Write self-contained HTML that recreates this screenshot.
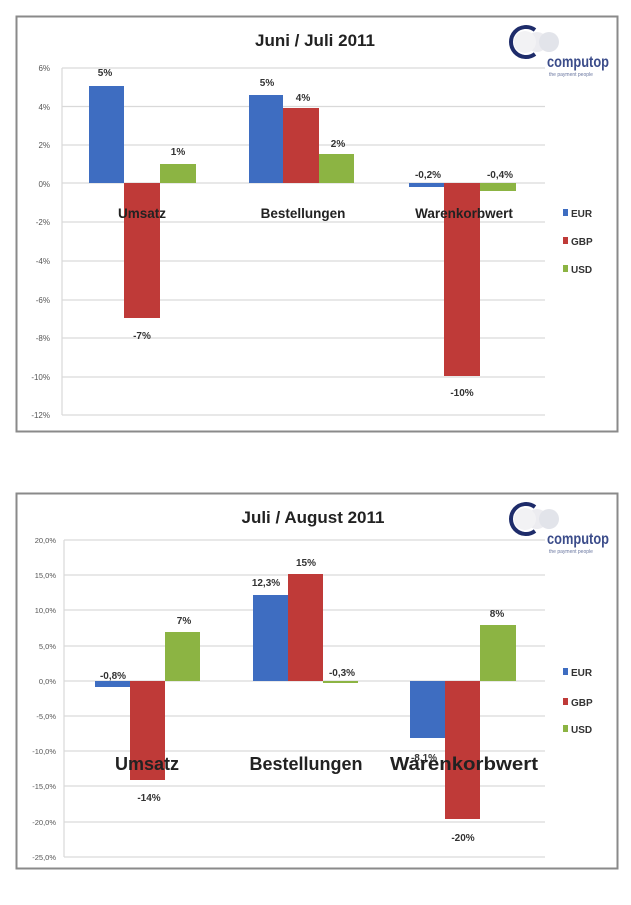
<!DOCTYPE html>
<html><head><meta charset="utf-8"><style>
body{margin:0;background:#fff;}
svg text{font-family:"Liberation Sans",sans-serif;}
</style></head><body>
<svg width="631" height="900" viewBox="0 0 631 900" xmlns="http://www.w3.org/2000/svg">
<defs>
<g id="logo">
 <circle cx="40" cy="22" r="10" fill="#ececf0"/>
 <circle cx="52" cy="22" r="10" fill="#e2e4ea"/>
 <circle cx="28" cy="22" r="11" fill="#f2f2f4"/>
 <path d="M38 10 A15 15 0 1 0 38 34" fill="none" stroke="#1e2c6a" stroke-width="4"/>
 <text x="50" y="47" font-size="16" fill="#3b4c8a" font-weight="bold" textLength="62" lengthAdjust="spacingAndGlyphs">computop</text>
 <text x="52" y="56" font-size="5" fill="#6a77a0">the payment people</text>
</g>
</defs>
<!-- Chart 1 -->
<rect x="16.5" y="16.5" width="601" height="415" fill="#fff" stroke="#8a8a8a" stroke-width="2"/>
<g stroke="#d9d9d9" stroke-width="1.2">
<line x1="62" x2="545" y1="68" y2="68"/><line x1="62" x2="545" y1="106.5" y2="106.5"/>
<line x1="62" x2="545" y1="145" y2="145"/><line x1="62" x2="545" y1="222" y2="222"/>
<line x1="62" x2="545" y1="261" y2="261"/><line x1="62" x2="545" y1="300" y2="300"/>
<line x1="62" x2="545" y1="338" y2="338"/><line x1="62" x2="545" y1="377" y2="377"/>
<line x1="62" x2="545" y1="415" y2="415"/><line x1="62" x2="62" y1="68" y2="415"/>
<line x1="62" x2="545" y1="183" y2="183"/>
</g>
<g font-size="8" fill="#555" text-anchor="end">
<text x="50" y="71">6%</text><text x="50" y="110">4%</text><text x="50" y="148">2%</text>
<text x="50" y="187">0%</text><text x="50" y="225">-2%</text><text x="50" y="264">-4%</text>
<text x="50" y="303">-6%</text><text x="50" y="341">-8%</text><text x="50" y="380">-10%</text><text x="50" y="418">-12%</text>
</g>
<rect x="89" y="86" width="35" height="97" fill="#3e6dc1"/>
<rect x="124" y="183" width="36" height="135" fill="#bf3a38"/>
<rect x="160" y="164" width="36" height="19" fill="#8cb443"/>
<rect x="249" y="95" width="34" height="88" fill="#3e6dc1"/>
<rect x="283" y="108" width="36" height="75" fill="#bf3a38"/>
<rect x="319" y="154" width="35" height="29" fill="#8cb443"/>
<rect x="409" y="183" width="35" height="4" fill="#3e6dc1"/>
<rect x="444" y="183" width="36" height="193" fill="#bf3a38"/>
<rect x="480" y="183" width="36" height="8" fill="#8cb443"/>
<g font-size="10" font-weight="bold" fill="#333" text-anchor="middle">
<text x="105" y="76">5%</text><text x="142" y="339">-7%</text><text x="178" y="155">1%</text>
<text x="267" y="86">5%</text><text x="303" y="101">4%</text><text x="338" y="147">2%</text>
<text x="428" y="178">-0,2%</text><text x="462" y="396">-10%</text><text x="500" y="178">-0,4%</text>
</g>
<g font-size="13.5" font-weight="bold" fill="#222" text-anchor="middle">
<text x="142" y="218">Umsatz</text><text x="303" y="218">Bestellungen</text><text x="464" y="218">Warenkorbwert</text>
</g>
<rect x="563" y="209" width="5" height="7" fill="#3e6dc1"/><text x="571" y="217" font-size="10" font-weight="bold" fill="#333">EUR</text>
<rect x="563" y="237" width="5" height="7" fill="#bf3a38"/><text x="571" y="245" font-size="10" font-weight="bold" fill="#333">GBP</text>
<rect x="563" y="265" width="5" height="7" fill="#8cb443"/><text x="571" y="273" font-size="10" font-weight="bold" fill="#333">USD</text>
<text x="315" y="46" font-size="17" font-weight="bold" fill="#222" text-anchor="middle">Juni / Juli 2011</text>
<use href="#logo" x="497" y="20"/>

<!-- Chart 2 -->
<rect x="16.5" y="493.5" width="601" height="375" fill="#fff" stroke="#8a8a8a" stroke-width="2"/>
<g stroke="#d9d9d9" stroke-width="1.2">
<line x1="64" x2="545" y1="540" y2="540"/><line x1="64" x2="545" y1="575" y2="575"/>
<line x1="64" x2="545" y1="610" y2="610"/><line x1="64" x2="545" y1="646" y2="646"/>
<line x1="64" x2="545" y1="716" y2="716"/><line x1="64" x2="545" y1="751" y2="751"/>
<line x1="64" x2="545" y1="786" y2="786"/><line x1="64" x2="545" y1="822" y2="822"/>
<line x1="64" x2="545" y1="857" y2="857"/><line x1="64" x2="64" y1="540" y2="857"/>
<line x1="64" x2="545" y1="681" y2="681"/>
</g>
<g font-size="7.5" fill="#555" text-anchor="end">
<text x="56" y="543">20,0%</text><text x="56" y="578">15,0%</text><text x="56" y="613">10,0%</text>
<text x="56" y="649">5,0%</text><text x="56" y="684">0,0%</text><text x="56" y="719">-5,0%</text>
<text x="56" y="754">-10,0%</text><text x="56" y="789">-15,0%</text><text x="56" y="825">-20,0%</text><text x="56" y="860">-25,0%</text>
</g>
<rect x="95" y="681" width="35" height="6" fill="#3e6dc1"/>
<rect x="130" y="681" width="35" height="99" fill="#bf3a38"/>
<rect x="165" y="632" width="35" height="49" fill="#8cb443"/>
<rect x="253" y="595" width="35" height="86" fill="#3e6dc1"/>
<rect x="288" y="574" width="35" height="107" fill="#bf3a38"/>
<rect x="323" y="681" width="35" height="2" fill="#8cb443"/>
<rect x="410" y="681" width="35" height="57" fill="#3e6dc1"/>
<rect x="445" y="681" width="35" height="138" fill="#bf3a38"/>
<rect x="480" y="625" width="36" height="56" fill="#8cb443"/>
<g font-size="10" font-weight="bold" fill="#333" text-anchor="middle">
<text x="113" y="679">-0,8%</text><text x="149" y="801">-14%</text><text x="184" y="624">7%</text>
<text x="266" y="586">12,3%</text><text x="306" y="566">15%</text><text x="342" y="676">-0,3%</text>
<text x="424" y="761">-8,1%</text><text x="463" y="841">-20%</text><text x="497" y="617">8%</text>
</g>
<g font-size="18" font-weight="bold" fill="#222" text-anchor="middle">
<text x="147" y="770">Umsatz</text><text x="306" y="770">Bestellungen</text><text x="464" y="770" textLength="148" lengthAdjust="spacingAndGlyphs">Warenkorbwert</text>
</g>
<rect x="563" y="668" width="5" height="7" fill="#3e6dc1"/><text x="571" y="676" font-size="10" font-weight="bold" fill="#333">EUR</text>
<rect x="563" y="698" width="5" height="7" fill="#bf3a38"/><text x="571" y="706" font-size="10" font-weight="bold" fill="#333">GBP</text>
<rect x="563" y="725" width="5" height="7" fill="#8cb443"/><text x="571" y="733" font-size="10" font-weight="bold" fill="#333">USD</text>
<text x="313" y="523" font-size="17" font-weight="bold" fill="#222" text-anchor="middle">Juli / August 2011</text>
<use href="#logo" x="497" y="497"/>
</svg>
</body></html>
